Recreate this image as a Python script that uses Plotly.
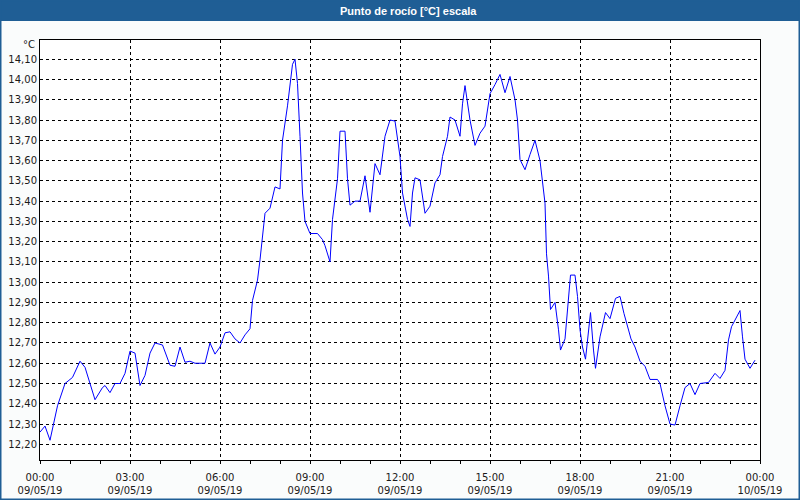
import plotly.graph_objects as go
import pandas as pd

# minutes after 09/05/19 00:00
minutes = [0, 10, 20, 35, 50, 65, 80, 90, 110, 125, 130, 140, 150, 160, 170, 180, 190, 200, 210, 220,
           230, 245, 260, 270, 280, 290, 300, 310, 330, 340, 350, 360, 370, 380, 390, 400, 410, 420, 425, 435,
           440, 445, 450, 460, 470, 480, 485, 495, 500, 505, 510, 515, 520, 525, 530, 540, 555, 565, 570, 580,
           585, 595, 600, 610, 615, 620, 630, 640, 650, 660, 670, 680, 690, 700, 710, 720, 725, 735, 740, 745,
           750, 760, 770, 780, 790, 800, 805, 815, 820, 830, 840, 845, 850, 860, 870, 880, 890, 900, 910, 920,
           930, 940, 950, 955, 960, 970, 980, 990, 1000, 1005, 1010, 1013, 1017, 1021, 1030, 1037, 1041, 1050, 1057, 1061,
           1070, 1075, 1080, 1085, 1091, 1097, 1101, 1107, 1111, 1120, 1131, 1140, 1151, 1160, 1168, 1182, 1190, 1200, 1210, 1220,
           1235, 1240, 1250, 1260, 1270, 1280, 1290, 1300, 1310, 1320, 1337, 1350, 1360, 1370, 1377, 1383, 1393, 1400, 1405, 1410,
           1420, 1430]
dew_point = [12.26, 12.29, 12.22, 12.39, 12.50, 12.53, 12.61, 12.58, 12.42, 12.48, 12.49, 12.455, 12.50, 12.50, 12.55, 12.66, 12.65, 12.49, 12.54, 12.65,
             12.70, 12.69, 12.59, 12.585, 12.68, 12.605, 12.61, 12.60, 12.60, 12.70, 12.645, 12.68, 12.75, 12.755, 12.72, 12.70, 12.74, 12.77, 12.91, 13.01,
             13.11, 13.22, 13.34, 13.365, 13.47, 13.46, 13.70, 13.87, 13.985, 14.075, 14.10, 13.98, 13.72, 13.44, 13.30, 13.24, 13.24, 13.21, 13.18, 13.10,
             13.31, 13.51, 13.745, 13.745, 13.51, 13.38, 13.40, 13.40, 13.525, 13.345, 13.585, 13.53, 13.72, 13.80, 13.795, 13.62, 13.44, 13.31, 13.275, 13.44,
             13.515, 13.505, 13.34, 13.375, 13.49, 13.53, 13.62, 13.72, 13.815, 13.80, 13.72, 13.88, 13.97, 13.80, 13.675, 13.735, 13.77, 13.93, 13.975, 14.025,
             13.935, 14.015, 13.90, 13.80, 13.605, 13.555, 13.63, 13.70, 13.60, 13.505, 13.39, 13.14, 13.03, 12.865, 12.90, 12.765, 12.665, 12.72, 12.945, 13.035,
             13.035, 12.93, 12.765, 12.68, 12.62, 12.75, 12.85, 12.665, 12.575, 12.73, 12.85, 12.82, 12.92, 12.93, 12.845, 12.72, 12.68, 12.61, 12.585, 12.52,
             12.52, 12.50, 12.39, 12.30, 12.295, 12.39, 12.48, 12.50, 12.445, 12.50, 12.505, 12.55, 12.525, 12.565, 12.715, 12.78, 12.83, 12.86, 12.73, 12.62,
             12.575, 12.615]

tick_times = ["2019-05-09 00:00", "2019-05-09 03:00", "2019-05-09 06:00", "2019-05-09 09:00", "2019-05-09 12:00",
              "2019-05-09 15:00", "2019-05-09 18:00", "2019-05-09 21:00", "2019-05-10 00:00"]
tick_labels = ["00:00<br>09/05/19", "03:00<br>09/05/19", "06:00<br>09/05/19", "09:00<br>09/05/19", "12:00<br>09/05/19",
               "15:00<br>09/05/19", "18:00<br>09/05/19", "21:00<br>09/05/19", "00:00<br>10/05/19"]
y_ticks = [12.2, 12.3, 12.4, 12.5, 12.6, 12.7, 12.8, 12.9, 13.0, 13.1, 13.2, 13.3, 13.4, 13.5, 13.6, 13.7, 13.8, 13.9, 14.0, 14.1]

title_text = "Punto de rocío [°C] escala"
unit_text = "°C"

times = pd.Timestamp("2019-05-09 00:00") + pd.to_timedelta(minutes, unit="m")

fig = go.Figure()
fig.add_trace(go.Scatter(x=times, y=dew_point, mode="lines",
                         line=dict(color="#0000ff", width=1), hoverinfo="x+y"))

W, H = 800, 500
L, R, T, B = 40, 40, 40, 40
pw, ph = W - L - R, H - T - B

def px_x(p):
    return (p - L) / pw

def px_y(p):
    return 1 - (p - T) / ph

font_family = "DejaVu Sans"
grid_dash = "3px,3px"
fig.update_layout(
    width=W, height=H,
    margin=dict(l=L, r=R, t=T, b=B, autoexpand=False),
    paper_bgcolor="#fafcfc",
    plot_bgcolor="white",
    showlegend=False,
    separators=",.",
    font=dict(family=font_family, size=10, color="#1a1a1a"),
    xaxis=dict(
        type="date",
        automargin=False,
        range=["2019-05-09 00:00", "2019-05-10 00:00"],
        tickvals=tick_times, ticktext=tick_labels,
        showgrid=True, gridcolor="black", griddash=grid_dash, gridwidth=1,
        showline=True, linecolor="black", linewidth=1, mirror=True,
        ticks="outside", ticklen=3, tickcolor="black",
        ticklabelstandoff=5,
        minor=dict(dtick=3600000, ticks="outside", ticklen=3, tickcolor="black", showgrid=False),
        zeroline=False,
        tickfont=dict(size=10, color="#1a1a1a"),
    ),
    yaxis=dict(
        automargin=False,
        range=[12.1225, 14.195],
        tickvals=y_ticks, tickformat=".2f",
        showgrid=True, gridcolor="black", griddash=grid_dash, gridwidth=1,
        showline=True, linecolor="black", linewidth=1, mirror=True,
        ticks="", zeroline=False,
        tickfont=dict(size=10, color="#1a1a1a"),
    ),
    shapes=[
        dict(type="rect", xref="paper", yref="paper",
             x0=px_x(0), x1=px_x(W), y0=px_y(21), y1=px_y(0),
             fillcolor="#1f5e95", line=dict(width=0), layer="above"),
        dict(type="rect", xref="paper", yref="paper",
             x0=px_x(0), x1=px_x(W), y0=px_y(H), y1=px_y(0),
             fillcolor="rgba(0,0,0,0)", line=dict(color="#1f5e95", width=3), layer="above"),
    ],
    annotations=[
        dict(text="<b>" + title_text + "</b>", xref="paper", yref="paper",
             x=px_x(409), y=px_y(10.5), xanchor="center", yanchor="middle", showarrow=False,
             font=dict(family="Liberation Sans", size=11, color="white")),
        dict(text=unit_text, xref="paper", yref="paper",
             x=px_x(37), y=px_y(45), xanchor="right", yanchor="middle", showarrow=False,
             font=dict(size=10, color="#1a1a1a")),
    ],
)

fig.write_html("out.html")
